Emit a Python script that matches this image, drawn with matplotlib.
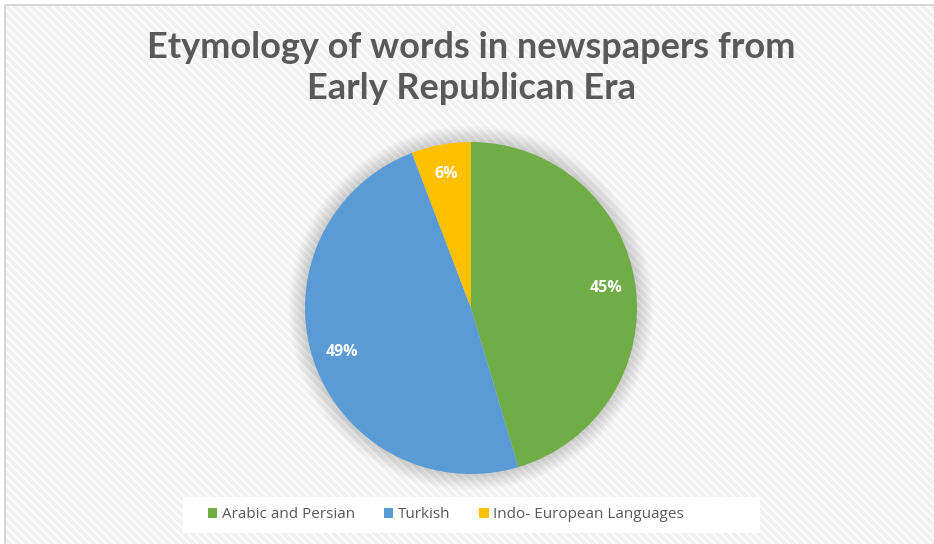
import matplotlib
matplotlib.use("Agg")
import matplotlib.pyplot as plt
from matplotlib.patches import Rectangle, Circle

# data
labels = ["Arabic and Persian", "Turkish", "Indo- European Languages"]
shares = [45.4, 48.8, 5.8]
colors = ["#70AD47", "#5B9BD5", "#FFC000"]
title = "Etymology of words in newspapers from\nEarly Republican Era"

W, H = 934, 544
plt.rcParams['hatch.linewidth'] = 3.0

fig = plt.figure(figsize=(W / 100, H / 100), dpi=100)
fig.patch.set_facecolor("white")

# striped background + thin border
bg = fig.add_axes([0, 0, 1, 1])
bg.set_xlim(0, W)
bg.set_ylim(H, 0)
bg.axis('off')
bg.add_patch(Rectangle((5, 5), W + 10, H + 10, facecolor="white",
                       edgecolor="#F1F1F1", hatch='\\\\\\\\', lw=0))
bg.add_patch(Rectangle((5, 5), W + 10, H + 10, facecolor="none",
                       edgecolor="#D0D0D0", lw=1.2))
# white legend strip
bg.add_patch(Rectangle((183, 497), 577, 36, facecolor="white", lw=0))

# pie
cx, cy, r = 471, 308, 166
ax = fig.add_axes([(cx - r) / W, (H - cy - r) / H, 2 * r / W, 2 * r / H])
# soft shadow
for i in range(8):
    ax.add_patch(Circle((0, 0.0), 1.0 + 0.012 * (i + 1), color="#000000",
                        alpha=0.018, lw=0, clip_on=False))
wedges, _, autotexts = ax.pie(shares, colors=colors, startangle=90, counterclock=False,
                              autopct=lambda p: f"{p:.0f}%", pctdistance=0.82,
                              radius=1, wedgeprops=dict(lw=0),
                              textprops=dict(color="white", fontsize=11.5,
                                             fontweight="bold", family="Open Sans"))
ax.set_xlim(-1, 1)
ax.set_ylim(-1, 1)
ax.axis('off')

fig.text(cx / W, 1 - 68 / H, title, ha="center", va="center", fontsize=26,
         fontweight="bold", color="#595959", family="Lato", linespacing=1.32)

# legend
leg = fig.legend(wedges, labels, loc="center", bbox_to_anchor=(446 / W, 1 - 515 / H),
                 ncol=3, frameon=False, handlelength=0.6, handleheight=0.6,
                 handletextpad=0.3, columnspacing=1.9, borderpad=0, borderaxespad=0,
                 prop=dict(family="Open Sans", size=11))
for t in leg.get_texts():
    t.set_color("#595959")

fig.savefig("out.png", dpi=100)
